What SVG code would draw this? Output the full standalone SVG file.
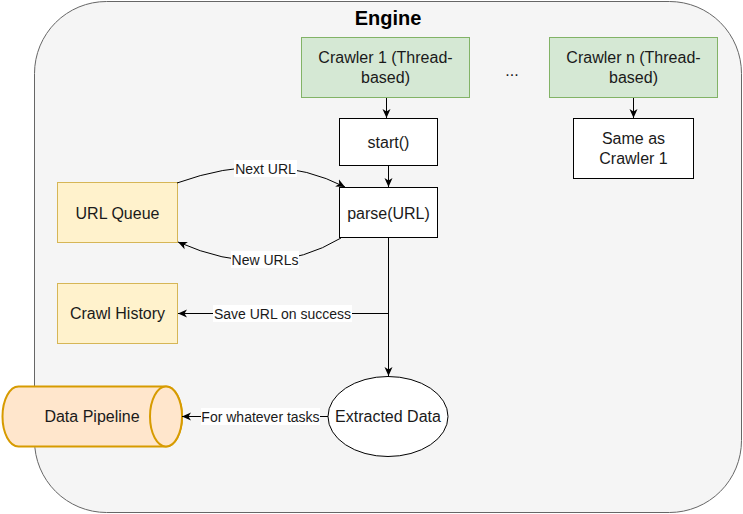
<svg xmlns="http://www.w3.org/2000/svg" width="743" height="514" viewBox="0 0 743 514">
<defs>
<marker id="arr" viewBox="0 0 10 10" refX="9" refY="5" markerWidth="10" markerHeight="10" markerUnits="userSpaceOnUse" orient="auto">
<path d="M0,1 L9,5 L0,9 L2.5,5 Z" fill="#000"/>
</marker>
</defs>
<style>
text{font-family:"Liberation Sans",Arial,sans-serif;fill:#1a1a1a;text-anchor:middle;dominant-baseline:central}
.n{font-size:16px}
.l{font-size:14px}
.green{fill:#d5e8d4;stroke:#82b366;stroke-width:1}
.yellow{fill:#fff2cc;stroke:#d6b656;stroke-width:1}
.white{fill:#fff;stroke:#000;stroke-width:1}
.e{fill:none;stroke:#000;stroke-width:1;marker-end:url(#arr)}
.lb{fill:#fff}
</style>
<g id="engine">
<rect x="34.5" y="1.5" width="707" height="511" rx="72" ry="72" fill="#f5f5f5" stroke="#666"/>
<text x="388" y="18" style="font-size:20px;font-weight:bold;fill:#000">Engine</text>
</g>
<g id="crawler1">
<rect class="green" x="301.5" y="37.5" width="168" height="60"/>
<text class="n" x="385.5" y="57">Crawler 1 (Thread-</text>
<text class="n" x="385.5" y="77">based)</text>
</g>
<g id="dots"><text class="n" x="512" y="70">...</text></g>
<g id="crawlern">
<rect class="green" x="549.5" y="37.5" width="168" height="60"/>
<text class="n" x="633.5" y="57">Crawler n (Thread-</text>
<text class="n" x="633.5" y="77">based)</text>
</g>
<g id="start">
<rect class="white" x="339.5" y="118.5" width="98" height="47"/>
<text class="n" x="388.5" y="142">start()</text>
</g>
<g id="same">
<rect class="white" x="573.5" y="118.5" width="120" height="60"/>
<text class="n" x="633.5" y="138">Same as</text>
<text class="n" x="633.5" y="158">Crawler 1</text>
</g>
<g id="parse">
<rect class="white" x="339.5" y="187.5" width="98" height="50"/>
<text class="n" x="388.5" y="213">parse(URL)</text>
</g>
<g id="urlqueue">
<rect class="yellow" x="57.5" y="182.5" width="120" height="60"/>
<text class="n" x="117.5" y="213">URL Queue</text>
</g>
<g id="crawlhistory">
<rect class="yellow" x="57.5" y="283.5" width="120" height="60"/>
<text class="n" x="117.5" y="313">Crawl History</text>
</g>
<g id="extracted">
<ellipse cx="388" cy="416.5" rx="60" ry="40" fill="#fff" stroke="#000"/>
<text class="n" x="388" y="416.5">Extracted Data</text>
</g>
<g id="pipeline">
<path d="M18.5,386.5 L166,386.5 A16,30 0 0 1 166,446.5 L18.5,446.5 A16,30 0 0 1 18.5,386.5 Z" fill="#ffe6cc" stroke="#d79b00" stroke-width="2"/>
<ellipse cx="166" cy="416.5" rx="16" ry="30" fill="#ffe6cc" stroke="#d79b00" stroke-width="2"/>
<text class="n" x="92" y="416.5">Data Pipeline</text>
</g>
<g id="connectors">
<line class="e" x1="386.5" y1="98" x2="386.5" y2="118"/>
<line class="e" x1="633.5" y1="98" x2="633.5" y2="118"/>
<line class="e" x1="388.5" y1="166" x2="388.5" y2="187"/>
<path class="e" d="M177,183 Q271,149 345,187"/>
<path class="e" d="M341,238 Q268,282 178,242"/>
<line class="e" x1="388.5" y1="238" x2="388.5" y2="376"/>
<path class="e" d="M388.5,313.5 L178,313.5"/>
<path class="e" d="M328,416.5 L182,416.5"/>
<rect class="lb" x="234" y="160" width="63" height="17"/>
<text class="l" x="265.5" y="168.5">Next URL</text>
<rect class="lb" x="231" y="251" width="68" height="17"/>
<text class="l" x="265" y="259.5">New URLs</text>
<rect class="lb" x="213" y="305" width="139" height="17"/>
<text class="l" x="282.5" y="313.5">Save URL on success</text>
<rect class="lb" x="201" y="408" width="119" height="17"/>
<text class="l" x="260.5" y="416.5">For whatever tasks</text>
</g>
</svg>
